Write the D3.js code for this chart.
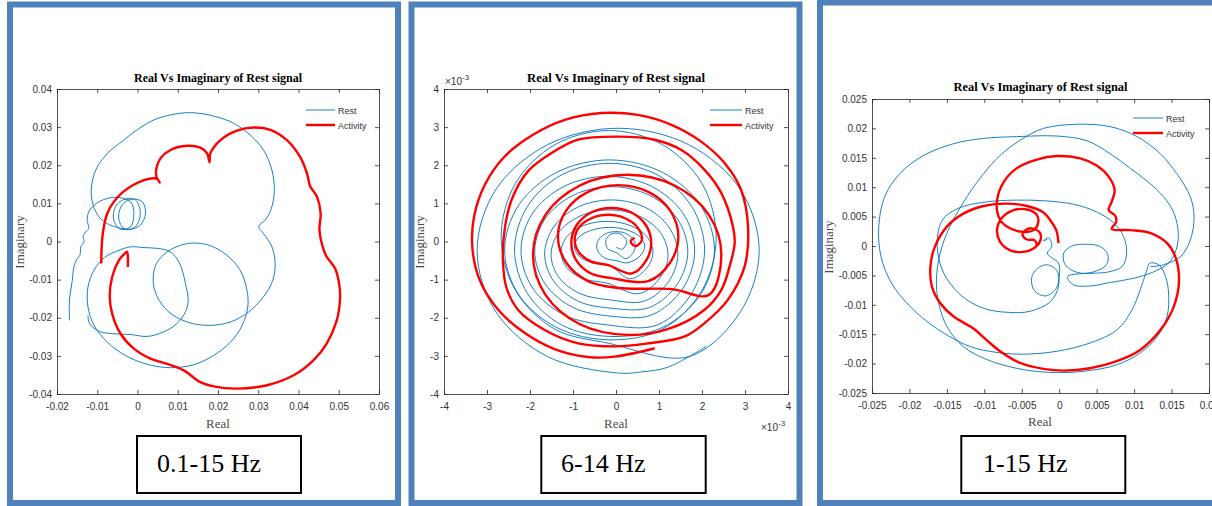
<!DOCTYPE html>
<html><head><meta charset="utf-8">
<script src="https://cdn.jsdelivr.net/npm/d3@7"></script>
<style>body{margin:0;background:#fff}svg{display:block}</style>
</head><body>
<svg id="c" width="1212" height="506"></svg>
<script>
// ---------- DATA (units of 1e-3) ----------
const panelLabels = ["0.1-15 Hz", "6-14 Hz", "1-15 Hz"];
const seriesNames = ["Rest", "Activity"];
const chartTitle = "Real Vs Imaginary of Rest signal";

const xTicksP1 = [-0.02,-0.01,0,0.01,0.02,0.03,0.04,0.05,0.06];
const yTicksP1 = [-0.04,-0.03,-0.02,-0.01,0,0.01,0.02,0.03,0.04];
const xTicksP2 = [-4,-3,-2,-1,0,1,2,3,4];
const yTicksP2 = [-4,-3,-2,-1,0,1,2,3,4];
const xTicksP3 = [-0.025,-0.02,-0.015,-0.01,-0.005,0,0.005,0.01,0.015,0.02];
const yTicksP3 = [-0.025,-0.02,-0.015,-0.01,-0.005,0,0.005,0.01,0.015,0.02,0.025];

// Panel 1 (0.1-15 Hz), x,y in 1e-3
const restP1 = [[-16.9,-20.7],[-16.9,-15.4],[-16.2,-10.2],[-15.8,-6.7],[-15.0,-4.5],[-14.3,-3.6],[-14.1,-1.4],[-13.3,-0.1],[-13.5,1.2],[-12.9,2.5],[-12.1,3.4],[-12.5,5.6],[-12.1,7.8],[-10.8,9.5],[-8.4,11.0],[-5.0,11.6],[-1.7,10.4],[-0.9,7.4],[-1.7,3.9],[-4.2,3.2],[-5.9,5.6],[-5.5,9.1],[-3.4,11.0],[-0.5,10.9],[0.7,7.4],[-0.5,3.9],[-3.0,3.2],[-4.6,5.6],[-4.1,9.1],[-1.7,11.1],[1.2,10.4],[2.0,7.4],[0.7,4.3],[-1.7,3.2],[-5.0,3.7],[-7.5,4.7],[-9.6,6.5],[-11.0,9.5],[-11.5,13.5],[-10.4,18.7],[-7.5,23.1],[-3.4,26.6],[-0.1,29.3],[4.1,31.9],[8.2,33.2],[13.1,33.8],[18.9,32.9],[23.9,31.0],[28.0,27.9],[31.3,24.0],[33.4,18.7],[34.0,13.1],[33.1,8.2],[31.7,5.6],[30.1,3.9],[31.3,2.1],[33.4,-1.4],[34.2,-5.8],[33.6,-10.2],[31.3,-14.5],[27.6,-18.5],[23.1,-21.1],[17.7,-22.0],[12.3,-21.1],[7.8,-18.5],[4.9,-14.5],[3.9,-10.2],[4.7,-5.8],[7.4,-2.7],[10.7,-1.0],[14.0,-0.4],[18.1,-1.1],[22.2,-3.6],[25.5,-7.5],[27.2,-12.8],[27.4,-17.2],[26.0,-22.0],[23.1,-26.4],[18.9,-29.9],[14.0,-32.3],[8.2,-33.1],[2.4,-32.2],[-3.0,-29.9],[-7.5,-26.4],[-10.8,-22.0],[-12.3,-17.2],[-12.3,-11.9],[-10.8,-7.5],[-8.2,-4.2],[-4.6,-2.3],[-1.7,-1.4],[1.6,-1.6],[4.9,-1.8],[7.8,-2.5],[9.8,-4.5],[11.1,-7.5],[11.9,-11.0],[12.6,-15.4],[11.9,-18.5],[9.8,-21.5],[6.5,-23.7],[2.4,-24.9],[-1.7,-24.4],[-5.9,-24.2],[-9.2,-23.7],[-11.2,-22.4],[-12.1,-21.1],[-12.3,-19.4]];
const actP1 = [[-9.0,-5.8],[-8.9,-1.4],[-8.5,3.0],[-7.5,7.4],[-5.9,10.4],[-3.8,12.8],[-1.3,14.7],[1.6,16.1],[4.1,16.6],[5.0,16.3],[5.5,15.5],[4.7,17.0],[4.7,19.2],[5.7,21.8],[8.2,24.0],[12.3,25.1],[15.6,24.6],[17.3,23.1],[17.9,20.8],[18.1,23.1],[20.6,26.6],[24.7,29.1],[28.8,29.9],[33.0,29.3],[37.1,26.6],[40.4,22.2],[42.1,17.9],[42.9,14.5],[44.6,11.7],[45.5,7.4],[45.2,3.0],[46.0,-1.4],[47.0,-4.0],[49.1,-7.1],[50.2,-11.9],[50.3,-15.4],[49.5,-20.7],[47.0,-26.8],[43.7,-31.2],[38.8,-35.1],[32.2,-37.7],[24.7,-38.6],[18.9,-38.0],[15.6,-36.9],[11.5,-33.8],[7.4,-32.1],[3.2,-30.7],[-0.9,-28.1],[-4.2,-24.2],[-6.3,-18.9],[-6.9,-14.5],[-6.3,-9.3],[-4.6,-4.9],[-3.2,-3.2],[-2.6,-2.7],[-2.4,-4.0],[-2.4,-6.7]];

// Panel 2 (6-14 Hz), x,y in 1e-3 (axis units)
const restP2 = [
[2.1,-2.75],[1.2,-3.30],[0.6,-3.42],
[0.05,-3.45],[-1.59,-3.02],[-2.79,-1.85],[-3.23,-0.24],[-2.79,1.37],[-1.59,2.54],[0.05,2.97],[1.69,2.54],[2.89,1.37],[3.33,-0.24],[2.89,-1.85],[1.69,-3.02],
[-0.17,-2.67],[-1.42,-2.30],[-2.34,-1.28],[-2.67,0.12],[-2.34,1.52],[-1.42,2.54],[-0.17,2.91],[1.08,2.54],[2.00,1.52],[2.33,0.12],[2.00,-1.28],[1.08,-2.30],
[-0.15,-2.58],[-1.37,-2.26],[-2.26,-1.40],[-2.59,-0.22],[-2.26,0.96],[-1.37,1.82],[-0.15,2.14],[1.07,1.82],[1.96,0.96],[2.29,-0.22],[1.96,-1.40],[1.07,-2.26],
[-0.15,-2.49],[-1.26,-2.19],[-2.06,-1.36],[-2.36,-0.22],[-2.06,0.92],[-1.26,1.75],[-0.15,2.05],[0.96,1.75],[1.76,0.92],[2.06,-0.22],[1.76,-1.36],[0.96,-2.19],
[-0.19,-2.19],[-1.20,-1.93],[-1.94,-1.22],[-2.21,-0.24],[-1.94,0.74],[-1.20,1.45],[-0.19,1.71],[0.82,1.45],[1.56,0.74],[1.83,-0.24],[1.56,-1.22],[0.82,-1.93],
[-0.11,-1.96],[-1.00,-1.73],[-1.65,-1.11],[-1.89,-0.26],[-1.65,0.59],[-1.00,1.21],[-0.11,1.44],[0.78,1.21],[1.43,0.59],[1.67,-0.26],[1.43,-1.11],[0.78,-1.73],
[-0.11,-1.75],[-0.89,-1.56],[-1.45,-1.04],[-1.66,-0.33],[-1.45,0.38],[-0.89,0.90],[-0.11,1.09],[0.67,0.90],[1.23,0.38],[1.44,-0.33],[1.23,-1.04],[0.67,-1.56],
[-0.15,-1.53],[-0.83,-1.37],[-1.33,-0.94],[-1.51,-0.35],[-1.33,0.24],[-0.83,0.67],[-0.15,0.83],[0.53,0.67],[1.03,0.24],[1.21,-0.35],[1.03,-0.94],[0.53,-1.37],
[-0.21,-1.09],[-0.75,-0.98],[-1.14,-0.69],[-1.28,-0.28],[-1.14,0.13],[-0.75,0.42],[-0.21,0.53],[0.33,0.42],[0.72,0.13],[0.86,-0.28],[0.72,-0.69],[0.33,-0.98],
[-0.15,-0.63],[-0.56,-0.56],[-0.86,-0.38],[-0.97,-0.13],[-0.86,0.12],[-0.56,0.30],[-0.15,0.37],[0.26,0.30],[0.56,0.12],[0.67,-0.13],[0.56,-0.38],[0.26,-0.56],
[0.0,-0.50],[-0.23,-0.45],[-0.39,-0.31],[-0.45,-0.12],[-0.39,0.07],[-0.23,0.21],[0.0,0.26],[0.23,0.21],[0.39,0.07],[0.45,-0.12],[0.39,-0.31],[0.23,-0.45],
[0.02,-0.30],[-0.20,-0.18],[-0.23,0.05],[-0.10,0.20],[0.10,0.20],[0.25,0.0],[0.15,-0.20],[0.0,-0.15]];
const actP2 = [
[0.90,-2.80],[-0.03,-3.02],[-0.65,-3.03],[-1.43,-2.82],[-2.12,-2.40],[-2.74,-1.79],[-3.17,-1.01],[-3.34,-0.17],[-3.30,0.66],[-3.05,1.49],[-2.59,2.23],[-1.93,2.80],[-1.19,3.19],[-0.34,3.37],[0.51,3.32],[1.29,3.06],[1.98,2.62],[2.53,2.05],[2.91,1.35],[3.07,0.39],[2.99,-0.66],[2.60,-1.53],[2.06,-2.14],[1.60,-2.49],
[0.70,-2.68],[-0.03,-2.75],[-0.88,-2.67],[-1.66,-2.32],[-2.28,-1.79],[-2.55,-1.20],[-2.63,-0.48],[-2.59,0.31],[-2.43,1.09],[-2.05,1.84],[-1.50,2.32],[-0.88,2.67],[0.05,2.75],[0.90,2.67],[1.52,2.40],[2.06,1.88],[2.45,1.27],[2.72,0.39],[2.76,-0.04],[2.64,-0.66],[2.45,-1.27],[2.06,-1.79],
[1.20,-2.30],[0.26,-2.45],[-0.84,-2.17],[-1.64,-1.40],[-1.93,-0.35],[-1.64,0.70],[-0.84,1.47],[0.26,1.75],[1.36,1.47],[2.16,0.70],[2.45,-0.35],[2.16,-1.40],
[1.30,-1.25],[0.05,-1.22],[-0.65,-1.04],[-1.16,-0.55],[-1.35,0.13],[-1.16,0.81],[-0.65,1.30],[0.05,1.48],[0.75,1.30],[1.26,0.81],[1.45,0.13],[1.26,-0.55],[0.75,-1.04],
[-0.11,-0.96],[-0.58,-0.84],[-0.92,-0.50],[-1.04,-0.04],[-0.92,0.42],[-0.58,0.76],[-0.11,0.88],[0.36,0.76],[0.70,0.42],[0.82,-0.04],[0.70,-0.50],[0.36,-0.84],
[-0.18,-0.62],[-0.57,-0.53],[-0.86,-0.29],[-0.96,0.04],[-0.86,0.37],[-0.57,0.61],[-0.18,0.70],[0.21,0.61],[0.50,0.37],[0.60,0.04],[0.45,-0.12],[0.34,0.0],[0.43,0.10]];

// Panel 3 (1-15 Hz), x,y in 1e-3
const restP3 = [[-1.6,1.1],[-2.1,0.9],[-1.4,1.4],[-1.0,-0.1],[-1.6,-1.2],[-1.1,-1.9],[-0.1,-2.9],[0.0,-5.2],[-0.5,-7.4],[-1.9,-8.5],[-3.3,-7.6],[-3.7,-5.5],[-2.9,-3.8],[-1.6,-3.2],[-0.3,-4.2],[-0.1,-6.9],[-1.2,-9.5],[-3.9,-11.1],[-6.6,-11.3],[-10.1,-10.6],[-13.2,-8.3],[-15.5,-4.4],[-16.3,0.5],[-15.6,4.4],[-13.5,6.4],[-9.7,7.5],[-5.7,7.8],[-2.1,7.7],[1.9,7.1],[5.0,5.8],[7.3,3.9],[8.6,1.6],[9.0,-1.2],[8.4,-3.5],[6.6,-4.4],[5.0,-4.6],[2.4,-4.5],[0.8,-3.2],[0.6,-1.2],[1.7,0.0],[3.5,0.3],[5.5,-0.1],[6.5,-1.5],[6.3,-3.2],[4.6,-4.4],[1.1,-5.2],[1.9,-6.6],[4.1,-6.8],[6.8,-6.2],[9.9,-5.5],[12.6,-4.4],[14.6,-2.9],[15.6,-0.7],[15.9,2.2],[15.4,5.3],[14.3,7.8],[12.6,10.1],[9.5,13.2],[6.8,15.7],[3.7,17.9],[-0.3,18.7],[-5.7,18.6],[-10.1,18.3],[-14.1,17.4],[-18.1,15.4],[-21.3,12.3],[-23.3,8.4],[-24.1,3.3],[-23.8,-1.8],[-22.4,-6.3],[-19.9,-10.3],[-16.4,-14.0],[-11.9,-17.1],[-8.3,-18.1],[-4.8,-18.4],[-0.3,-17.9],[4.1,-16.5],[7.7,-14.3],[9.7,-10.9],[10.8,-7.5],[11.7,-4.1],[12.1,-2.9],[13.3,-3.2],[14.2,-5.2],[14.6,-8.0],[14.4,-12.0],[13.1,-15.4],[10.8,-18.2],[7.7,-20.2],[3.3,-21.3],[-1.2,-21.5],[-5.7,-20.8],[-9.7,-19.3],[-12.8,-17.1],[-15.0,-13.7],[-16.1,-9.7],[-16.4,-5.8],[-15.9,-1.2],[-14.6,3.3],[-12.3,8.4],[-10.1,12.3],[-7.9,15.4],[-5.2,18.0],[-2.1,20.0],[2.4,20.7],[6.8,20.3],[10.4,18.6],[13.5,15.7],[15.7,12.3],[17.5,8.4],[18.0,5.0],[17.5,1.0],[16.2,-1.8],[13.9,-3.2],[12.2,-3.5]];
const actP3 = [[-0.1,0.5],[-0.4,2.7],[-1.2,4.4],[-2.1,5.7],[-4.3,6.8],[-7.0,7.2],[-10.1,6.8],[-12.8,5.5],[-15.0,3.3],[-16.6,-0.1],[-17.2,-3.5],[-17.0,-6.9],[-15.9,-9.7],[-14.1,-12.0],[-11.5,-14.0],[-9.7,-16.0],[-7.9,-17.9],[-5.2,-19.9],[-2.1,-20.9],[0.6,-21.2],[4.1,-20.8],[7.7,-19.6],[10.8,-17.7],[13.5,-14.3],[15.3,-10.3],[16.0,-5.8],[15.5,-1.8],[14.4,0.5],[12.2,2.2],[9.5,2.7],[7.0,2.9],[7.6,4.1],[7.5,5.1],[6.6,6.1],[7.0,7.5],[7.4,9.5],[6.6,11.8],[5.0,13.7],[2.8,14.9],[-0.3,15.3],[-3.0,14.7],[-5.7,13.2],[-7.4,10.9],[-8.3,7.8],[-8.1,5.0],[-7.0,3.3],[-4.8,2.4],[-3.4,2.7],[-2.8,4.0],[-3.0,5.3],[-4.3,6.2],[-6.1,6.1],[-7.7,4.7],[-8.3,2.7],[-7.9,0.7],[-6.6,-0.7],[-4.8,-1.0],[-3.2,-0.2],[-2.5,1.0],[-2.6,2.3],[-3.7,3.0],[-4.5,2.7],[-4.9,1.9],[-4.3,1.1],[-3.3,1.0],[-3.0,0.2]];

// ---------- LAYOUT ----------
const panels = [
  {rest: restP1, act: actP1, unit: 1e-3, xDom:[-0.02,0.06], yDom:[-0.04,0.04], xT:xTicksP1, yT:yTicksP1,
   ax:{l:57,r:379,t:89,b:394}, frame:{x:10,y:4.5,w:388,h:498.5}, titleY:82, titleLen:168,
   legend:{x1:306,x2:335,y:110,tx:338}, xlab:{x:218,y:428}, ylab:{x:24,y:242},
   box:{x:137,y:436,w:164,h:57}, label:{x:157,y:472}},
  {rest: restP2, act: actP2, unit: 1, xDom:[-4,4], yDom:[-4,4], xT:xTicksP2, yT:yTicksP2,
   ax:{l:444,r:788,t:89,b:394}, frame:{x:411.5,y:4.5,w:388,h:498.5}, titleY:82, titleLen:178,
   legend:{x1:710,x2:742,y:110,tx:745}, xlab:{x:616,y:428}, ylab:{x:424,y:242},
   box:{x:541.3,y:436,w:164.4,h:57}, label:{x:561,y:472}, exp:true},
  {rest: restP3, act: actP3, unit: 1e-3, xDom:[-0.025,0.02], yDom:[-0.025,0.025], xT:xTicksP3, yT:yTicksP3,
   ax:{l:872,r:1209,t:99,b:393}, frame:{x:820,y:2.5,w:410,h:500.5}, titleY:91, titleLen:174,
   legend:{x1:1133,x2:1163,y:118,tx:1166}, xlab:{x:1040,y:426}, ylab:{x:833,y:247},
   box:{x:961.3,y:436,w:164,h:57}, label:{x:983,y:472}}
];

const svg = d3.select("#c");
svg.append("rect").attr("width",1212).attr("height",506).attr("fill","#fff");
const fmt = d => String(+d.toFixed(4));
const BLUE = "#0072BD", RED = "#FF0000", FRAME = "#4F81BD", AX = "#262626";

panels.forEach((p, i) => {
  const g = svg.append("g");
  g.append("rect").attr("x",p.frame.x).attr("y",p.frame.y).attr("width",p.frame.w).attr("height",p.frame.h)
    .attr("fill","none").attr("stroke",FRAME).attr("stroke-width",6);

  const x = d3.scaleLinear().domain(p.xDom).range([p.ax.l, p.ax.r]);
  const y = d3.scaleLinear().domain(p.yDom).range([p.ax.b, p.ax.t]);

  const clipId = "clip" + i;
  g.append("clipPath").attr("id", clipId).append("rect")
    .attr("x",p.ax.l).attr("y",p.ax.t).attr("width",p.ax.r-p.ax.l).attr("height",p.ax.b-p.ax.t);

  const line = d3.line().x(d => x(d[0]*p.unit)).y(d => y(d[1]*p.unit)).curve(d3.curveCatmullRom.alpha(0.5));
  const plot = g.append("g").attr("clip-path", `url(#${clipId})`);
  plot.append("path").datum(p.rest).attr("d", line).attr("fill","none").attr("stroke",BLUE).attr("stroke-width",0.9);
  plot.append("path").datum(p.act).attr("d", line).attr("fill","none").attr("stroke",RED).attr("stroke-width",2.4)
    .attr("stroke-linejoin","round");

  const axStyle = sel => {
    sel.selectAll("path.domain").attr("stroke",AX).attr("stroke-width",0.8);
    sel.selectAll(".tick line").attr("stroke",AX).attr("stroke-width",0.8);
    sel.selectAll(".tick text").attr("fill","#333").attr("font-family","'Liberation Sans', Arial, sans-serif").attr("font-size",10);
  };
  g.append("g").attr("transform",`translate(0,${p.ax.b})`)
    .call(d3.axisBottom(x).tickValues(p.xT).tickFormat(fmt).tickSize(-4).tickSizeOuter(0).tickPadding(9)).call(axStyle);
  g.append("g").attr("transform",`translate(0,${p.ax.t})`)
    .call(d3.axisTop(x).tickValues(p.xT).tickFormat("").tickSize(-4).tickSizeOuter(0)).call(axStyle);
  g.append("g").attr("transform",`translate(${p.ax.l},0)`)
    .call(d3.axisLeft(y).tickValues(p.yT).tickFormat(fmt).tickSize(-4).tickSizeOuter(0).tickPadding(5)).call(axStyle);
  g.append("g").attr("transform",`translate(${p.ax.r},0)`)
    .call(d3.axisRight(y).tickValues(p.yT).tickFormat("").tickSize(-4).tickSizeOuter(0)).call(axStyle);
  g.selectAll(".domain").attr("fill","none");

  g.append("text").attr("x",(p.ax.l+p.ax.r)/2).attr("y",p.titleY).attr("text-anchor","middle")
    .attr("font-family","'Liberation Serif','Times New Roman',serif").attr("font-weight","bold").attr("font-size",13)
    .attr("textLength",p.titleLen).attr("lengthAdjust","spacingAndGlyphs").attr("fill","#000").text(chartTitle);

  g.append("text").attr("x",p.xlab.x).attr("y",p.xlab.y).attr("text-anchor","middle")
    .attr("font-family","'Liberation Serif','Times New Roman',serif").attr("font-size",13).attr("fill","#4a4a4a").text("Real");
  g.append("text").attr("transform",`translate(${p.ylab.x},${p.ylab.y}) rotate(-90)`).attr("text-anchor","middle")
    .attr("font-family","'Liberation Serif','Times New Roman',serif").attr("font-size",13).attr("fill","#4a4a4a").text("Imaginary");

  const lg = g.append("g");
  [[BLUE,0.9,0],[RED,2.4,15]].forEach((s, k) => {
    lg.append("line").attr("x1",p.legend.x1).attr("x2",p.legend.x2).attr("y1",p.legend.y+s[2]).attr("y2",p.legend.y+s[2])
      .attr("stroke",s[0]).attr("stroke-width",s[1]);
    lg.append("text").attr("x",p.legend.tx).attr("y",p.legend.y+s[2]+3.5)
      .attr("font-family","'Liberation Sans', Arial, sans-serif").attr("font-size",9).attr("fill","#333").text(seriesNames[k]);
  });

  if (p.exp) {
    const e1 = g.append("text").attr("x",p.ax.l+1).attr("y",85).attr("font-family","'Liberation Sans', Arial, sans-serif")
      .attr("font-size",10).attr("fill","#333");
    e1.append("tspan").text("\u00d710");
    e1.append("tspan").attr("dy",-5).attr("font-size",8).text("-3");
    const e2 = g.append("text").attr("x",p.ax.r-27).attr("y",431).attr("font-family","'Liberation Sans', Arial, sans-serif")
      .attr("font-size",10).attr("fill","#333");
    e2.append("tspan").text("\u00d710");
    e2.append("tspan").attr("dy",-5).attr("font-size",8).text("-3");
  }

  g.append("rect").attr("x",p.box.x).attr("y",p.box.y).attr("width",p.box.w).attr("height",p.box.h)
    .attr("fill","#fff").attr("stroke","#000").attr("stroke-width",2);
  g.append("text").attr("x",p.label.x).attr("y",p.label.y)
    .attr("font-family","'Liberation Serif','Times New Roman',serif").attr("font-size",26).attr("fill","#000").text(panelLabels[i]);
});
</script>
</body></html>
